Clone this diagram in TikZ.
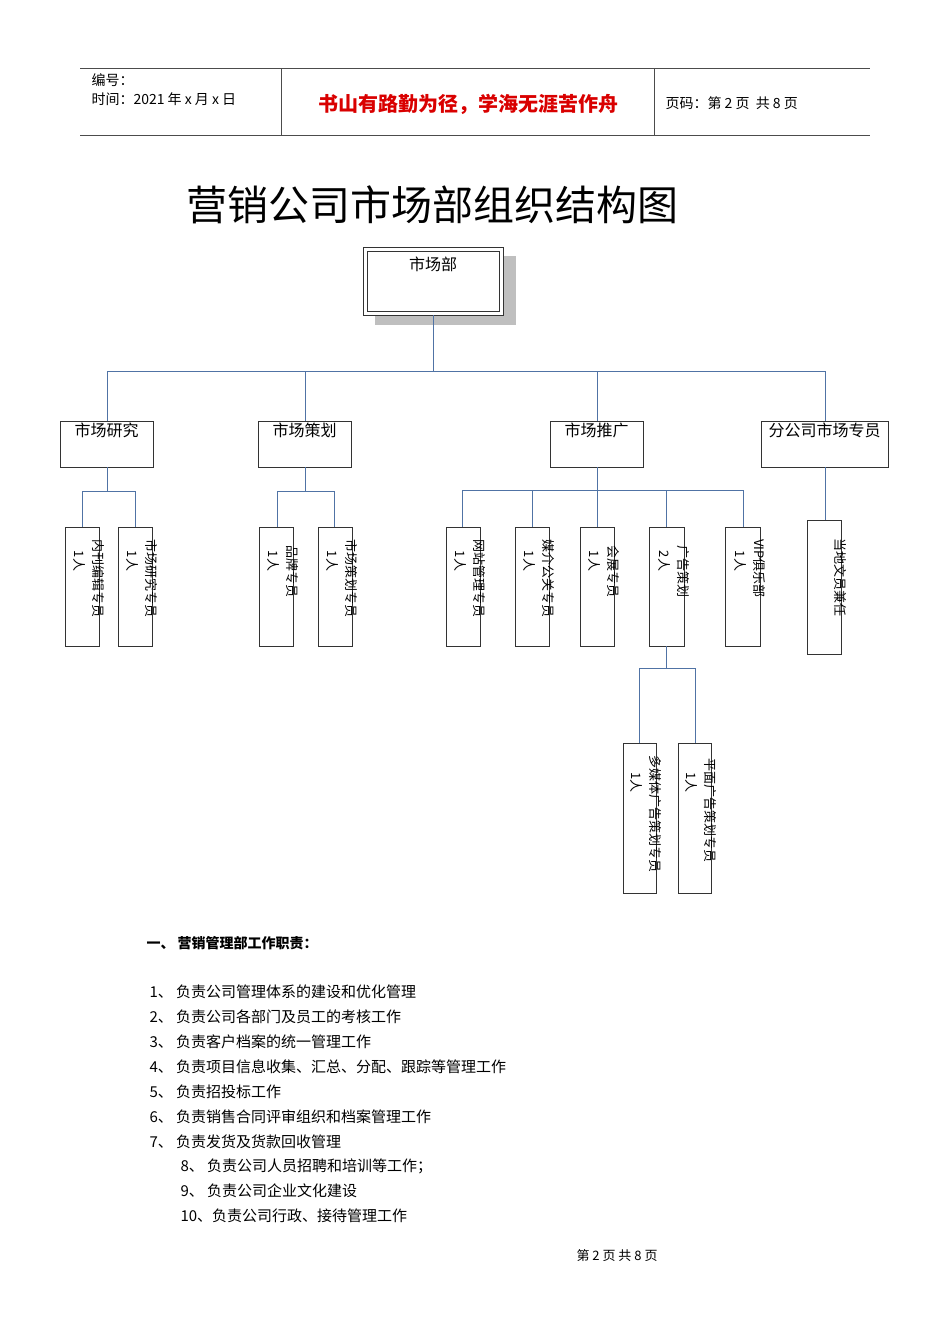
\documentclass[tikz,border=0pt]{standalone}
\usepackage{fontspec}
\setmainfont{Liberation Serif}
\newfontfamily\cjk{Noto Sans CJK SC}
\definecolor{lnc}{RGB}{80,115,165}
\begin{document}
\begin{tikzpicture}[x=1pt,y=-1pt,
 ln/.style={draw=lnc, line width=0.8pt},
 bx/.style={draw=black!80, line width=0.8pt, fill=white},
 vtxt/.style={rotate=-90, font=\cjk\fontsize{13}{19}\selectfont, align=left, inner sep=0pt},
 ttxt/.style={font=\cjk\fontsize{16}{18}\selectfont, anchor=north, inner sep=0pt}]
\useasboundingbox (0,0) rectangle (950,1344);
% header
\draw[black!70] (80,68) -- (870,68) (80,135) -- (870,135) (281,68) -- (281,135) (654,68) -- (654,135);
\node[anchor=west, font=\cjk\fontsize{14}{16}\selectfont] (h1) at (88,80) {编号：};
\node[anchor=west, font=\cjk\fontsize{14}{16}\selectfont] (h2) at (88,99) {时间：2021 年 x 月 x 日};
\node[font=\cjk\bfseries\fontsize{20}{22}\selectfont, text=red!85!black] (h3) at (468,104) {书山有路勤为径，学海无涯苦作舟};
\node[anchor=west, font=\cjk\fontsize{14}{16}\selectfont] (h4) at (662,103) {页码：第 2 页\ \ 共 8 页};
% title
\node[font=\cjk\fontsize{41}{44}\selectfont] (title) at (432,205) {营销公司市场部组织结构图};
% top box
\fill[black!25] (375,256) rectangle (516,325);
\draw[bx] (363,247) rectangle (503,315);
\draw[black!80] (367,251) rectangle (499,311);
\node[ttxt] (top) at (433,257) {市场部};
\coordinate (topb) at (433,315);
% level 2
\foreach \n/\a/\b/\t in {r/60/153/市场研究, p/258/351/市场策划, g/550/643/市场推广, f/761/888/分公司市场专员}{
  \draw[bx] (\a,421) rectangle (\b,467);
  \node[ttxt] (\n) at ({(\a+\b)/2},423) {\t};
}
\draw[ln] (topb) -- (433,371) (107,371) -- (825,371);
\foreach \x in {107,305,597,825} \draw[ln] (\x,371) -- (\x,421);
% level 3 boxes
\newcommand\vb[6]{% name, x1, x2, y1, y2, text
  \draw[bx] (#2,#4) rectangle (#3,#5);
  \node[vtxt, anchor=north west] (#1) at ({#3+6},{#4+12}) {#6};}
\draw[ln] (107,467) -- (107,491) (82,491) -- (135,491) (82,491) -- (82,527) (135,491) -- (135,527);
\vb{a1}{65}{99}{527}{646}{内刊编辑专员\\\ \ \ \ 1人}
\vb{a2}{118}{152}{527}{646}{市场研究专员\\\ \ \ \ 1人}
\draw[ln] (305,467) -- (305,491) (277,491) -- (334,491) (277,491) -- (277,527) (334,491) -- (334,527);
\vb{b1}{259}{293}{527}{646}{\ \ 品牌专员\\\ \ \ \ 1人}
\vb{b2}{318}{352}{527}{646}{市场策划专员\\\ \ \ \ 1人}
\draw[ln] (597,467) -- (597,527) (462,490) -- (743,490);
\foreach \x in {462,532,666,743} \draw[ln] (\x,490) -- (\x,527);
\vb{c1}{446}{480}{527}{646}{网站管理专员\\\ \ \ \ 1人}
\vb{c2}{515}{549}{527}{646}{媒介公关专员\\\ \ \ \ 1人}
\vb{c3}{580}{614}{527}{646}{\ \ 会展专员\\\ \ \ \ 1人}
\vb{c4}{649}{684}{527}{646}{\ \ 广告策划\\\ \ \ \ 2人}
\vb{c5}{725}{760}{527}{646}{VIP俱乐部\\\ \ \ \ 1人}
\draw[ln] (825,467) -- (825,520);
\vb{d1}{807}{841}{520}{654}{\ \ 当地文员兼任}
\draw[ln] (666,646) -- (666,668) (639,668) -- (695,668) (639,668) -- (639,743) (695,668) -- (695,743);
\vb{e1}{623}{656}{743}{893}{多媒体广告策划专员\\\ \ \ \ \ \ 1人}
\vb{e2}{678}{711}{743}{893}{\ 平面广告策划专员\\\ \ \ \ \ \ 1人}
% text
\node[anchor=west, font=\cjk\bfseries\fontsize{14}{16}\selectfont] (s) at (143,943) {一、 营销管理部工作职责：};
\foreach \i/\t in {1/负责公司管理体系的建设和优化管理, 2/负责公司各部门及员工的考核工作, 3/负责客户档案的统一管理工作, 4/负责项目信息收集、汇总、分配、跟踪等管理工作, 5/负责招投标工作, 6/负责销售合同评审组织和档案管理工作, 7/负责发货及货款回收管理}
  \node[anchor=west, font=\cjk\fontsize{15}{16}\selectfont] (l\i) at (146,{992+25*(\i-1)}) {\i、 \t};
\node[anchor=west, font=\cjk\fontsize{15}{16}\selectfont] (l8) at (177,1166) {8、 负责公司人员招聘和培训等工作；};
\node[anchor=west, font=\cjk\fontsize{15}{16}\selectfont] (l9) at (177,1191) {9、 负责公司企业文化建设};
\node[anchor=west, font=\cjk\fontsize{15}{16}\selectfont] (l10) at (177,1216) {10、负责公司行政、接待管理工作};
\node[font=\cjk\fontsize{13}{14}\selectfont] (foot) at (617,1256) {第 2 页 共 8 页};
\end{tikzpicture}
\end{document}
